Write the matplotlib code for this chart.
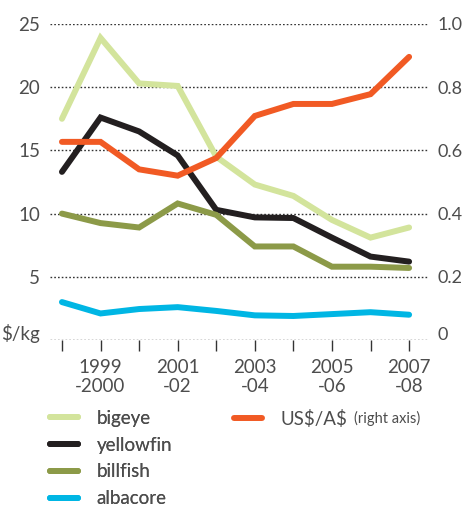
import matplotlib
matplotlib.use("Agg")
import matplotlib.pyplot as plt
from matplotlib.lines import Line2D

plt.rcParams['font.family'] = ['Lato', 'DejaVu Sans']

periods = ["1998\n-99", "1999\n-2000", "2000\n-01", "2001\n-02", "2002\n-03",
           "2003\n-04", "2004\n-05", "2005\n-06", "2006\n-07", "2007\n-08"]
bigeye = [17.5, 23.9, 20.3, 20.1, 14.5, 12.3, 11.4, 9.5, 8.1, 8.9]
yellowfin = [13.3, 17.6, 16.5, 14.6, 10.3, 9.7, 9.65, 8.1, 6.6, 6.2]
billfish = [10.0, 9.25, 8.9, 10.8, 9.9, 7.4, 7.4, 5.8, 5.8, 5.7]
albacore = [3.0, 2.1, 2.45, 2.6, 2.3, 1.95, 1.9, 2.05, 2.2, 2.0]
usd_aud = [0.627, 0.627, 0.54, 0.52, 0.576, 0.709, 0.747, 0.747, 0.778, 0.896]
left_ticks = [0, 5, 10, 15, 20, 25]
left_labels = ["\\$/kg", "5", "10", "15", "20", "25"]
right_ticks = [0, 0.2, 0.4, 0.6, 0.8, 1.0]
right_labels = ["0", "0.2", "0.4", "0.6", "0.8", "1.0"]

C_BIG = "#d3e49c"
C_YEL = "#231f20"
C_BILL = "#8c9a48"
C_ALB = "#00b6e4"
C_USD = "#f15a24"
TXT = "#4d4d4d"
LW = 4.3
FS = 13.5

W, H = 462, 507
fig = plt.figure(figsize=(W / 100, H / 100), dpi=100)
ax = fig.add_axes([50 / W, (H - 340) / H, (428 - 50) / W, (340 - 24) / H])
ax2 = ax.twinx()

x = list(range(len(periods)))
for s in ax.spines.values():
    s.set_visible(False)
for s in ax2.spines.values():
    s.set_visible(False)

ax.set_ylim(0, 25)
ax2.set_ylim(0, 1.0)
ax.set_xlim(-0.31, 9.49)

for t in left_ticks:
    ax.axhline(t, color="#333333", lw=1.0, ls=(0, (1.2, 1.5)), zorder=0)

ax.plot(x, bigeye, color=C_BIG, lw=LW, solid_capstyle="round", solid_joinstyle="miter", zorder=3)
ax.plot(x, yellowfin, color=C_YEL, lw=LW, solid_capstyle="round", solid_joinstyle="miter", zorder=3)
ax.plot(x, billfish, color=C_BILL, lw=LW, solid_capstyle="round", solid_joinstyle="miter", zorder=3)
ax.plot(x, albacore, color=C_ALB, lw=LW, solid_capstyle="round", solid_joinstyle="miter", zorder=3)
ax2.plot(x, usd_aud, color=C_USD, lw=LW, solid_capstyle="round", solid_joinstyle="miter", zorder=4)

ax.set_yticks(left_ticks)
ax.set_yticklabels(left_labels)
ax2.set_yticks(right_ticks)
ax2.set_yticklabels(right_labels)
ax.tick_params(axis="y", length=0, pad=7, labelsize=FS, labelcolor=TXT)
ax2.tick_params(axis="y", length=0, pad=7, labelsize=13, labelcolor=TXT)
ax.get_yticklabels()[0].set_va("baseline")
ax2.get_yticklabels()[0].set_va("baseline")

ax.set_xticks(x)
ax.set_xticklabels([p if i % 2 == 1 else "" for i, p in enumerate(periods)])
ax.tick_params(axis="x", length=8, width=1.0, color="#333333", direction="out",
               pad=6, labelsize=FS, labelcolor=TXT)
for lab in ax.get_xticklabels():
    lab.set_linespacing(1.1)

# legend
handles1 = [Line2D([], [], color=c, lw=LW, solid_capstyle="round")
            for c in [C_BIG, C_YEL, C_BILL, C_ALB]]
leg1 = fig.legend(handles1, ["bigeye", "yellowfin", "billfish", "albacore"],
                  loc="upper left", bbox_to_anchor=(33 / W, 1 - 393 / H),
                  frameon=False, handlelength=1.5, handletextpad=1.0,
                  labelspacing=0.52, fontsize=FS, labelcolor=TXT)
leg2 = fig.legend([Line2D([], [], color=C_USD, lw=LW, solid_capstyle="round")],
                  ["US\\$/A\\$"], loc="upper left", bbox_to_anchor=(217 / W, 1 - 393 / H),
                  frameon=False, handlelength=1.5, handletextpad=1.0,
                  fontsize=FS, labelcolor=TXT)
fig.add_artist(leg1)

fig.canvas.draw()
bb = leg2.get_texts()[0].get_window_extent()
fig.text((bb.x1 + 6) / W, (bb.y0 + bb.y1) / 2 / H, "(right axis)", fontsize=10.5,
         color=TXT, va="center", ha="left")

fig.savefig("out.png", dpi=100)
